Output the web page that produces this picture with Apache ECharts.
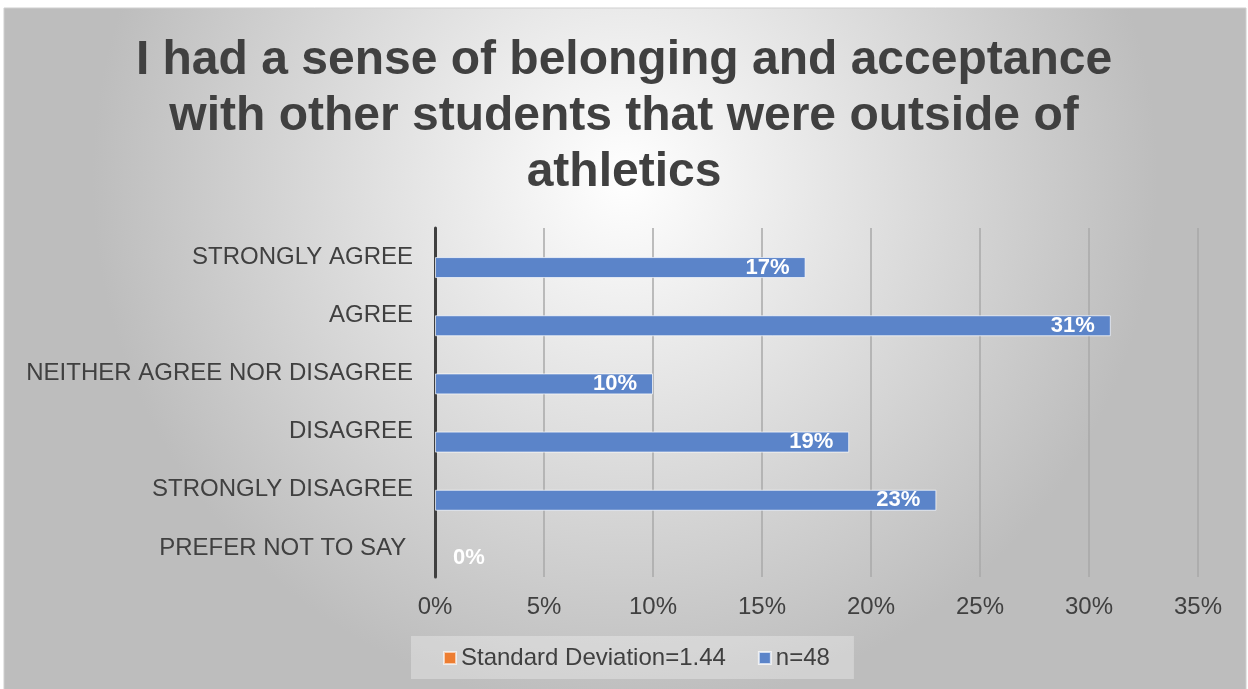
<!DOCTYPE html>
<html>
<head>
<meta charset="utf-8">
<script src="https://cdn.jsdelivr.net/npm/echarts@6/dist/echarts.min.js"></script>
<style>
html,body{margin:0;padding:0;background:#fff;}
#chart{width:1248px;height:689px;}
</style>
</head>
<body>
<div id="chart"></div>
<script>
const titleText = 'I had a sense of belonging and acceptance\nwith other students that were outside of\nathletics';
const categories = ['STRONGLY AGREE', 'AGREE', 'NEITHER AGREE NOR DISAGREE', 'DISAGREE', 'STRONGLY DISAGREE', 'PREFER NOT TO SAY '];
const nValues = [17, 31, 10, 19, 23, 0];
const sdValues = [null, null, null, null, null, null];
const seriesNames = ['Standard Deviation=1.44', 'n=48'];
const xTicks = [0, 5, 10, 15, 20, 25, 30, 35];

const chart = echarts.init(document.getElementById('chart'));
const option = {
  animation: false,
  graphic: [{
    type: 'rect', z: -10, silent: true,
    shape: { x: 4, y: 8, width: 1242, height: 682 },
    style: {
      fill: { type: 'radial', x: 0.5, y: 0.25, r: 0.78,
        colorStops: [{ offset: 0, color: '#ffffff' }, { offset: 1, color: '#bdbdbd' }] },
      stroke: '#cfcfcf', lineWidth: 1
    }
  }],
  title: {
    text: titleText,
    left: 'center',
    top: 28,
    padding: [5, 5, 5, 17],
    textStyle: { fontFamily: 'Liberation Sans, Arial, sans-serif', fontWeight: 'bold', fontSize: 48, lineHeight: 56, color: '#404040' }
  },
  legend: {
    left: 411, top: 636,
    padding: [10, 24, 9, 32],
    itemGap: 32, itemWidth: 12, itemHeight: 12,
    backgroundColor: 'rgba(255,255,255,0.3)',
    icon: 'rect',
    data: seriesNames,
    textStyle: { fontFamily: 'Liberation Sans, Arial, sans-serif', fontSize: 24, color: '#404040' }
  },
  grid: { left: 435, right: 50, top: 228, bottom: 112, containLabel: false },
  xAxis: {
    type: 'value', min: xTicks[0], max: xTicks[xTicks.length - 1], interval: 5,
    axisLine: { show: false }, axisTick: { show: false },
    splitLine: { show: true, lineStyle: { color: '#a8a8a8', width: 1.5 } },
    axisLabel: { formatter: '{value}%', fontFamily: 'Liberation Sans, Arial, sans-serif', fontSize: 24, color: '#404040', margin: 18 }
  },
  yAxis: {
    type: 'category', data: categories, inverse: true,
    axisLine: { show: true, lineStyle: { color: '#404040', width: 3 } },
    axisTick: { show: false },
    splitLine: { show: false },
    axisLabel: { fontFamily: 'Liberation Sans, Arial, sans-serif', fontSize: 24, color: '#404040', margin: 22 }
  },
  series: [{
    name: seriesNames[0], type: 'bar', data: sdValues,
    barWidth: 21, barGap: '0%',
    itemStyle: { color: '#ED7D31', borderColor: 'rgba(255,255,255,0.6)', borderWidth: 1 },
    label: { show: false }
  }, {
    name: seriesNames[1], type: 'bar',
    data: nValues.map(v => v === 0
      ? { value: v, itemStyle: { borderWidth: 0, color: 'rgba(0,0,0,0)' }, label: { position: 'right', distance: 18 } }
      : v),
    barWidth: 21, barGap: '0%',
    itemStyle: { color: '#5b84c9', borderColor: 'rgba(255,255,255,0.7)', borderWidth: 1 },
    label: { show: true, position: 'insideRight', distance: 16, formatter: '{c}%', color: '#ffffff', fontWeight: 'bold', fontSize: 22, fontFamily: 'Liberation Sans, Arial, sans-serif' }
  }]
};
chart.setOption(option);
</script>
</body>
</html>
